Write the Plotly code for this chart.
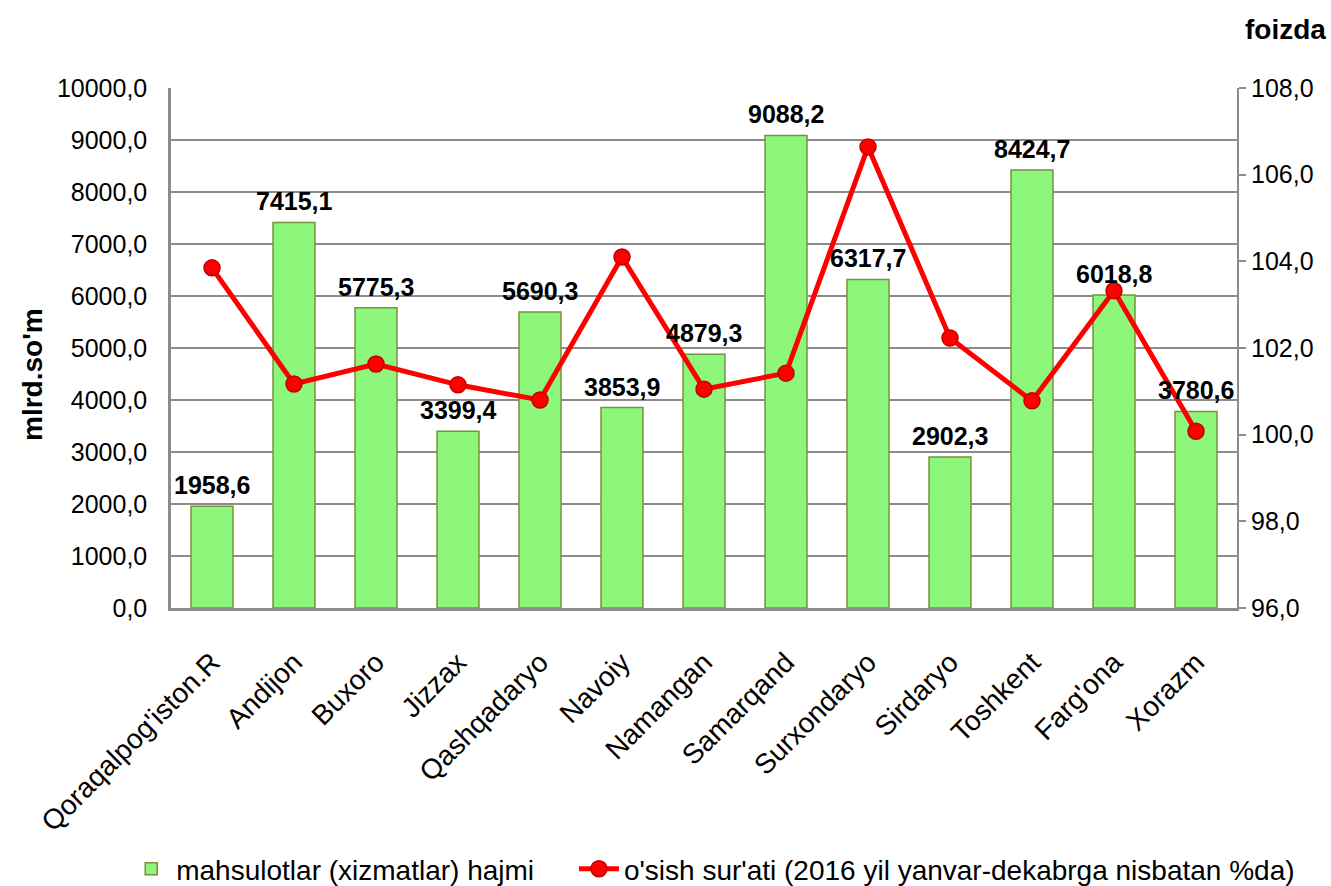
import plotly.graph_objects as go

categories = ["Qoraqalpog'iston.R", "Andijon", "Buxoro", "Jizzax", "Qashqadaryo", "Navoiy",
              "Namangan", "Samarqand", "Surxondaryo", "Sirdaryo", "Toshkent", "Farg'ona", "Xorazm"]
volume = [1958.6, 7415.1, 5775.3, 3399.4, 5690.3, 3853.9, 4879.3, 9088.2, 6317.7, 2902.3, 8424.7, 6018.8, 3780.6]
growth = [103.85, 101.17, 101.63, 101.15, 100.8, 104.1, 101.05, 101.42, 106.64, 102.23, 100.78, 103.32, 100.08]

left_ticks = [i * 1000 for i in range(11)]
right_ticks = [96, 98, 100, 102, 104, 106, 108]

FONT = "Liberation Sans, Arial, sans-serif"
GRID = "#8c8c8c"

def fmt(v):
    return f"{v:.1f}".replace(".", ",")

fig = go.Figure()
fig.add_trace(go.Bar(
    x=categories, y=volume, name="mahsulotlar (xizmatlar) hajmi",
    marker=dict(color="#8CF77A", line=dict(color="#77933C", width=1.5)),
    width=0.512, legend="legend",
))
fig.add_trace(go.Scatter(
    x=categories, y=growth, name="o'sish sur'ati (2016 yil yanvar-dekabrga nisbatan %da)",
    yaxis="y2", mode="lines+markers",
    line=dict(color="#FF0000", width=5),
    marker=dict(size=16, color="#FF0000", line=dict(color="#C00000", width=1.5)),
    legend="legend2",
))

annotations = []
for c, v in zip(categories, volume):
    annotations.append(dict(x=c, y=v, xref="x", yref="y", text=f"<b>{fmt(v)}</b>",
                            showarrow=False, yanchor="bottom", yshift=5,
                            font=dict(size=25, color="black", family=FONT)))
annotations.append(dict(text="<b>foizda</b>", xref="paper", yref="paper", x=1.0854, y=1.113,
                        xanchor="right", yanchor="middle", showarrow=False,
                        font=dict(size=28, color="black", family=FONT)))
annotations.append(dict(text="<b>mlrd.so'm</b>", xref="paper", yref="paper", x=-0.1304, y=0.45,
                        xanchor="center", yanchor="middle", textangle=-90, showarrow=False,
                        font=dict(size=28, color="black", family=FONT)))

legend_common = dict(orientation="h", yanchor="middle", y=-0.502, font=dict(size=28),
                     itemwidth=40, bgcolor="rgba(0,0,0,0)", xanchor="left")

fig.update_layout(
    width=1331, height=886,
    paper_bgcolor="white", plot_bgcolor="white",
    margin=dict(l=171, r=94, t=88, b=278, autoexpand=False),
    font=dict(family=FONT, size=25, color="black"),
    showlegend=True,
    legend=dict(x=-0.042, **legend_common),
    legend2=dict(x=0.378, **legend_common),
    xaxis=dict(range=[-0.5, len(categories) - 0.5], tickangle=-45,
               showline=True, linecolor=GRID, linewidth=2.5,
               ticks="", ticklabelstandoff=24, tickfont=dict(size=28), automargin=False),
    yaxis=dict(range=[0, 10000], tickvals=left_ticks, ticktext=[fmt(v) for v in left_ticks],
               showgrid=True, gridcolor=GRID, gridwidth=2,
               showline=True, linecolor=GRID, linewidth=2.5,
               ticks="", ticklabelstandoff=16,
               tickfont=dict(size=25), automargin=False, zeroline=False),
    yaxis2=dict(range=[96, 108], tickvals=right_ticks, ticktext=[fmt(v) for v in right_ticks],
                overlaying="y", side="right", showgrid=False,
                showline=True, linecolor=GRID, linewidth=2,
                ticks="outside", tickcolor=GRID, ticklen=7, tickwidth=1.5,
                tickfont=dict(size=25), automargin=False, zeroline=False),
    annotations=annotations,
)

fig.write_html("out.html", config={"displayModeBar": False},
               post_script="document.body.style.margin='0';document.body.style.overflow='hidden';")
